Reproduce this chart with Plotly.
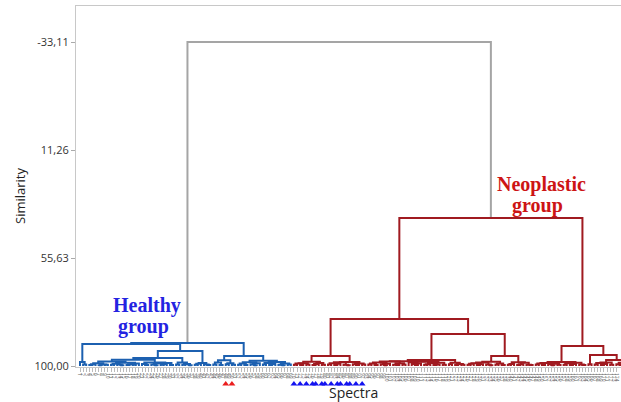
import plotly.graph_objects as go

# ---- data: similarity at which each pair of neighbouring leaves joins (leaf order left->right)
healthy_gaps = [
    98.4, 99.4, 90.97,
    99.6, 99.3, 98.9, 99.7, 99.4, 99.5,
    98.2,
    99.5, 99.1, 99.4, 99.7, 98.7, 99.6, 99.3, 99.5, 99.0,
    97.4,
    99.2, 99.6, 98.6, 99.4, 99.7, 98.9, 99.5, 99.3, 98.8, 99.6,
    96.7,
    99.4, 98.6, 99.5, 99.2, 99.7,
    93.84,
    99.5, 99.1, 98.77, 99.4, 99.6,
    90.56,
    99.4, 98.6, 99.6, 97.6, 99.3, 98.9, 99.5,
    95.9,
    99.5, 99.0, 99.6, 98.5, 99.3, 99.7, 98.9,
    97.8,
    99.4, 98.8, 99.6, 99.2, 98.4, 99.5, 99.7, 99.0, 99.4,
]
root_gap = [-33.11]
neoplastic_gaps = [
    99.5, 99.0, 99.6, 98.9, 99.4, 98.3, 99.6, 99.2, 98.8, 99.5,
    95.9,
    99.4, 98.9, 99.6, 99.1, 98.5, 99.5, 99.7, 98.4, 99.3, 99.6, 99.0, 99.4,
    80.7,
    99.4, 99.0, 99.6, 98.6, 99.3, 99.7, 99.1, 98.2, 99.5, 99.6, 98.9, 99.4, 98.0,
    98.5, 99.2, 99.6, 99.0, 98.3, 99.5, 99.3, 98.8, 99.6, 99.4, 98.7, 99.5,
    97.5,
    99.3, 98.7, 99.6, 99.2, 99.5,
    86.86,
    99.5, 99.1, 98.9, 99.6, 99.3, 98.6, 99.4, 99.7,
    98.3,
    99.4, 99.0, 99.6,
    95.9,
    99.5, 99.2, 98.5, 99.6, 99.3, 98.7, 99.5, 99.6,
    39.2,
    99.4, 99.0, 99.6, 98.8, 99.3, 99.7, 99.1, 99.5,
    98.4,
    99.5, 98.9, 99.6, 99.2, 98.7, 99.4, 99.6,
    91.8,
    99.3,
    95.5,
    99.4, 98.8, 99.6, 99.2, 98.6, 99.5,
    97.5,
    99.3, 99.6, 98.7, 99.4, 99.0, 99.5, 99.6, 98.9,
]
y_tickvals = [-33.11, 11.26, 55.63, 100.00]
y_ticktext = ["-33,11", "11,26", "55,63", "100,00"]
red_marked_leaves = [47, 49]
blue_marked_leaves = [69, 71, 73, 75, 76, 78, 79, 81, 83, 84, 86, 87, 89, 91]

gaps = healthy_gaps + root_gap + neoplastic_gaps
n_leaves = len(gaps) + 1
n_healthy = len(healthy_gaps) + 1
leaf_labels = [str(i + 1) for i in range(n_leaves)]
n_visible = 174  # leaves whose labels fit inside the picture

COL = {"blue": "rgb(28,96,176)", "red": "rgb(160,26,32)", "gray": "rgb(165,165,165)"}
segs = {k: ([], []) for k in COL}


def build(lo, hi):
    if lo == hi:
        return float(lo), 100.0
    k = min(range(lo, hi), key=lambda j: gaps[j])
    lx, lh = build(lo, k)
    rx, rh = build(k + 1, hi)
    h = gaps[k]
    c = "blue" if hi < n_healthy else ("red" if lo >= n_healthy else "gray")
    xs, ys = segs[c]
    xs += [lx, lx, rx, rx, None]
    ys += [lh, h, h, rh, None]
    return (lx + rx) / 2, h


build(0, n_leaves - 1)

FIG_H = 402
L, T = 76, 6
W, H = 621 - L, FIG_H - T          # plot area incl. strip below the axis
AXIS_BOTTOM = 367                   # pixel row of the leaf axis
TRI_Y = 384                         # pixel row of the marker triangles
strip = (FIG_H - AXIS_BOTTOM) / H
tri_pos = (FIG_H - TRI_Y) / (FIG_H - AXIS_BOTTOM)

fig = go.Figure()
for c in ["gray", "blue", "red"]:
    xs, ys = segs[c]
    fig.add_trace(go.Scatter(x=xs, y=ys, mode="lines",
                             line=dict(color=COL[c], width=2),
                             hoverinfo="skip", showlegend=False))

# marker triangles under selected spectra (in a strip below the axis)
for leaves, color in [(red_marked_leaves, "rgb(235,30,30)"), (blue_marked_leaves, "rgb(20,20,240)")]:
    fig.add_trace(go.Scatter(x=leaves, y=[tri_pos] * len(leaves), xaxis="x2", yaxis="y2",
                             mode="markers", showlegend=False, hoverinfo="skip",
                             marker=dict(symbol="triangle-up", size=6, color=color)))


def px(x):
    return (x - L) / W


def py(y):
    return (FIG_H - y) / H


ann = [
    dict(text="<b>Healthy</b>", x=px(147), y=py(305), font=dict(family="Liberation Serif", size=20, color="rgb(35,35,225)")),
    dict(text="<b>group</b>", x=px(143), y=py(326), font=dict(family="Liberation Serif", size=20, color="rgb(35,35,225)")),
    dict(text="<b>Neoplastic</b>", x=px(541), y=py(184), font=dict(family="Liberation Serif", size=20, color="rgb(205,20,20)")),
    dict(text="<b>group</b>", x=px(537), y=py(206), font=dict(family="Liberation Serif", size=20, color="rgb(205,20,20)")),
    dict(text="Spectra", x=px(353), y=py(392), font=dict(family="Open Sans", size=14, color="#222")),
    dict(text="Similarity", x=px(20), y=py(196), textangle=-90, font=dict(family="Open Sans", size=13, color="#222")),
]
for a in ann:
    a.update(xref="paper", yref="paper", showarrow=False, xanchor="center", yanchor="middle", borderpad=0)

xr = [-1.29, 174.5]
fig.update_layout(
    width=621, height=FIG_H, autosize=False,
    margin=dict(l=L, r=0, t=T, b=0, pad=0, autoexpand=False),
    plot_bgcolor="white", paper_bgcolor="white",
    annotations=ann,
    xaxis=dict(range=xr, anchor="y", automargin=False, tickmode="array", tickvals=list(range(n_visible)),
               ticktext=leaf_labels[:n_visible], tickangle=90, tickfont=dict(size=5, color="#666"),
               ticks="outside", ticklen=4, tickcolor="#bbbbbb", showgrid=False, zeroline=False,
               showline=True, linecolor="#c8c8c8", linewidth=1, mirror=True),
    yaxis=dict(domain=[strip, 1], range=[100.41, -47.9], automargin=False, tickmode="array",
               tickvals=y_tickvals, ticktext=y_ticktext,
               tickfont=dict(family="Open Sans", size=11, color="#333"), ticks="outside", ticklen=4,
               tickcolor="#aaaaaa", showgrid=False, zeroline=False,
               showline=True, linecolor="#c8c8c8", linewidth=1),
    xaxis2=dict(range=xr, anchor="y2", visible=False, automargin=False),
    yaxis2=dict(domain=[0, strip], range=[0, 1], visible=False, automargin=False),
)

fig.write_html("out.html", config={"displayModeBar": False},
               post_script="document.body.style.margin='0';document.body.style.overflow='hidden';")
